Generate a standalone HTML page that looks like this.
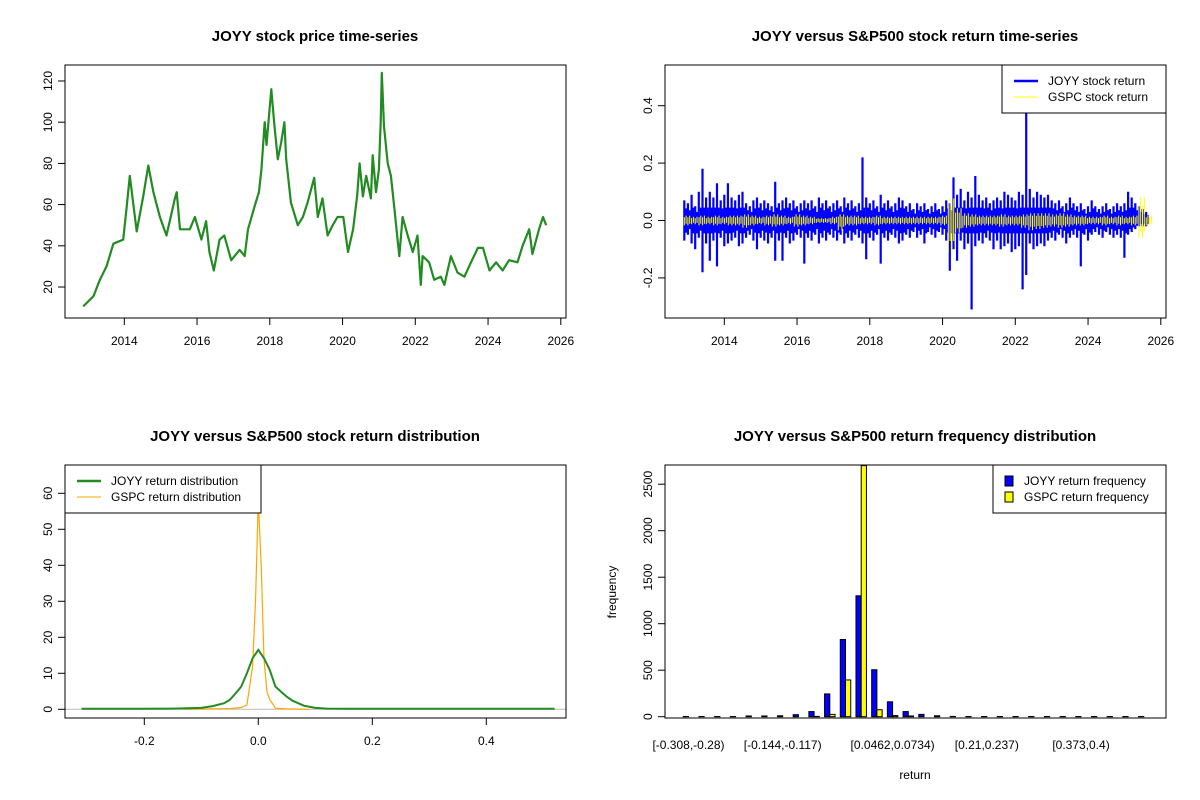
<!DOCTYPE html>
<html><head><meta charset="utf-8"><style>
body{margin:0;background:#fff}
svg{display:block;font-family:"Liberation Sans",Arial,sans-serif}
</style></head><body>
<svg id="c" width="1200" height="800" viewBox="0 0 1200 800" xmlns="http://www.w3.org/2000/svg"></svg>
<script>
// ---------- data ----------
const priceYears=[2012.87,2013.15,2013.33,2013.51,2013.7,2013.97,2014.06,2014.15,2014.34,2014.52,2014.66,2014.8,2014.98,2015.16,2015.39,2015.44,2015.53,2015.8,2015.94,2016.12,2016.25,2016.34,2016.46,2016.62,2016.75,2016.94,2017.17,2017.31,2017.4,2017.58,2017.7,2017.77,2017.86,2017.91,2018.04,2018.13,2018.22,2018.31,2018.4,2018.45,2018.58,2018.77,2018.91,2019.04,2019.22,2019.32,2019.45,2019.59,2019.73,2019.86,2020.02,2020.15,2020.29,2020.4,2020.47,2020.56,2020.65,2020.78,2020.83,2020.92,2021.0,2021.05,2021.08,2021.14,2021.24,2021.33,2021.42,2021.56,2021.65,2021.79,2021.93,2022.06,2022.15,2022.2,2022.38,2022.52,2022.7,2022.8,2022.98,2023.16,2023.35,2023.53,2023.72,2023.86,2024.04,2024.22,2024.4,2024.58,2024.81,2024.95,2025.13,2025.22,2025.4,2025.51,2025.6];
const priceValues=[10.6,15.5,23.5,30,41,43,58,74,47,64,79,66,54,45,63,66,48,48,54,43,52,37,28,43,45,33,38,35,48,59,66,77,100,89,116,98,82,90,100,82,61,50,54,61,73,54,63,45,50,54,54,37,48,64,80,64,74,63,84,66,77,100,124,98,80,74,59,35,54,45,37,45,21,35,32,23.5,25,21,35,27,25,32,39,39,28,32,28,33,32,40,48,36,48,54,50];
const yearTicks=[2014,2016,2018,2020,2022,2024,2026];
const priceTicks=[20,40,60,80,100,120];

const retStart=2012.9, retEnd=2025.6;
const joyyHi=[.07,.06,.09,.05,.10,.18,.08,.10,.08,.13,.07,.09,.13,.08,.07,.09,.10,.06,.05,.07,.08,.06,.07,.06,.05,.135,.06,.07,.08,.06,.07,.05,.06,.07,.06,.07,.05,.08,.06,.07,.05,.06,.07,.05,.08,.06,.07,.05,.06,.22,.08,.06,.07,.05,.09,.06,.07,.05,.06,.08,.07,.05,.06,.04,.06,.05,.06,.04,.05,.06,.04,.05,.07,.06,.15,.09,.11,.07,.10,.08,.155,.09,.07,.08,.06,.07,.08,.07,.10,.09,.08,.07,.10,.09,.45,.11,.08,.10,.09,.08,.09,.07,.06,.07,.05,.06,.08,.06,.05,.06,.04,.05,.07,.05,.04,.05,.06,.04,.05,.06,.05,.06,.10,.08,.06,.05,.04,.03];
const joyyLo=[-.07,-.05,-.08,-.10,-.06,-.18,-.08,-.14,-.07,-.16,-.06,-.09,-.08,-.07,-.06,-.09,-.08,-.06,-.05,-.07,-.10,-.06,-.07,-.08,-.06,-.14,-.07,-.14,-.06,-.08,-.07,-.05,-.06,-.15,-.06,-.07,-.05,-.08,-.06,-.07,-.05,-.06,-.07,-.05,-.08,-.06,-.07,-.05,-.06,-.08,-.135,-.06,-.07,-.05,-.15,-.06,-.07,-.05,-.06,-.08,-.07,-.05,-.06,-.04,-.06,-.05,-.08,-.04,-.05,-.06,-.04,-.05,-.07,-.175,-.10,-.14,-.07,-.10,-.08,-.31,-.09,-.07,-.08,-.06,-.07,-.10,-.07,-.10,-.09,-.08,-.11,-.10,-.09,-.24,-.19,-.08,-.10,-.09,-.08,-.09,-.07,-.06,-.07,-.05,-.06,-.08,-.06,-.05,-.06,-.16,-.05,-.07,-.05,-.04,-.05,-.06,-.04,-.05,-.06,-.05,-.06,-.13,-.05,-.04,-.03,-.02,-.02,-.02];
const gspcHi=[.02,.015,.02,.015,.02,.015,.02,.02,.025,.02,.015,.02,.025,.02,.015,.025,.02,.015,.01,.01,.015,.025,.02,.02,.015,.015,.02,.015,.015,.015,.015,.015,.015,.015,.015,.02,.09,.05,.03,.025,.02,.02,.02,.025,.02,.02,.025,.03,.03,.03,.025,.03,.025,.02,.02,.015,.015,.02,.015,.02,.015,.02,.095,.02];
const gspcLo=[-.02,-.015,-.02,-.015,-.02,-.015,-.02,-.02,-.03,-.02,-.015,-.02,-.025,-.02,-.015,-.025,-.02,-.015,-.01,-.01,-.015,-.04,-.02,-.02,-.015,-.015,-.02,-.015,-.015,-.015,-.015,-.015,-.015,-.015,-.015,-.02,-.13,-.05,-.03,-.025,-.02,-.02,-.02,-.025,-.02,-.02,-.03,-.04,-.035,-.03,-.025,-.03,-.025,-.02,-.02,-.015,-.015,-.02,-.015,-.02,-.015,-.02,-.07,-.02];
const retTicks=[-0.2,0,0.2,0.4];
const retTickLabels=["-0.2","0.0","0.2","0.4"];

const densX=[-0.31,-0.2,-0.15,-0.1,-0.08,-0.06,-0.05,-0.04,-0.03,-0.02,-0.01,0,0.01,0.02,0.03,0.04,0.05,0.06,0.08,0.1,0.12,0.15,0.2,0.52];
const densJoyy=[0.15,0.15,0.2,0.4,0.9,1.7,2.6,4.4,6.3,10,14.2,16.5,14.2,11,6.3,4.9,3.5,2.4,1.0,0.4,0.2,0.15,0.15,0.15];
const densGX=[-0.13,-0.05,-0.03,-0.02,-0.01,-0.005,0,0.005,0.01,0.015,0.02,0.03,0.05,0.09];
const densGspc=[0,0.2,0.5,1.2,12,30,58,40,14,5,2.8,0.3,0.1,0];
const densXTicks=[-0.2,0,0.2,0.4];
const densXLabels=["-0.2","0.0","0.2","0.4"];
const densYTicks=[0,10,20,30,40,50,60];

const histJoyy=[2,2,2,2,8,8,10,22,55,245,830,1300,505,160,55,25,10,3,2,2,2,2,2,2,2,2,2,2,2,2];
const histGspc=[0,0,0,0,0,0,0,0,3,25,395,2700,75,12,8,0,0,0,0,0,0,0,0,0,0,0,0,0,0,0];
const histLabels=["[-0.308,-0.28)","[-0.144,-0.117)","[0.0462,0.0734)","[0.21,0.237)","[0.373,0.4)"];
const histLabelIdx=[0,6,13,19,25];
const histYTicks=[0,500,1000,1500,2000,2500];

// ---------- helpers ----------
const NS="http://www.w3.org/2000/svg";
const svg=document.getElementById('c');
function el(tag,attrs,parent,txt){const e=document.createElementNS(NS,tag);for(const k in attrs)e.setAttribute(k,attrs[k]);if(txt!==undefined)e.textContent=txt;(parent||svg).appendChild(e);return e;}
function lin(d0,d1,r0,r1){return v=>r0+(v-d0)*(r1-r0)/(d1-d0);}
function group(name){const g=el('g',{});return g;}
function box(g,x0,y0,x1,y1){const r=el('rect',{x:x0,y:y0,width:x1-x0,height:y1-y0,fill:'none',stroke:'#000','stroke-width':1},g);}
function title(g,x,y,t){const e=el('text',{x:x,y:y,'text-anchor':'middle','font-size':15,'font-weight':'bold'},g,t);}
function xAxis(g,ticks,labels,sx,yb){const a=el('g',{},g);
  el('line',{x1:sx(ticks[0]),x2:sx(ticks[ticks.length-1]),y1:yb,y2:yb,stroke:'#000'},a);
  ticks.forEach((t,i)=>{el('line',{x1:sx(t),x2:sx(t),y1:yb,y2:yb+7,stroke:'#000'},a);
   const l=el('text',{x:sx(t),y:yb+27,'text-anchor':'middle','font-size':12},a,labels[i]);});}
function yAxis(g,ticks,labels,sy,xl){const a=el('g',{},g);
  el('line',{x1:xl,x2:xl,y1:sy(ticks[0]),y2:sy(ticks[ticks.length-1]),stroke:'#000'},a);
  ticks.forEach((t,i)=>{el('line',{x1:xl-7,x2:xl,y1:sy(t),y2:sy(t),stroke:'#000'},a);
   const l=el('text',{x:xl-13,y:sy(t),'text-anchor':'middle','font-size':12,transform:`rotate(-90 ${xl-13} ${sy(t)})`},a,labels[i]);});}
function legend(g,x,y,w,items){const L=el('g',{},g);
  el('rect',{x:x,y:y,width:w,height:48,fill:'#fff',stroke:'#000'},L);
  items.forEach((it,i)=>{const cy=y+16+i*16;
   if(it.sw){el('rect',{x:x+12,y:cy-5,width:8,height:10,fill:it.c,stroke:'#000'},L);}
   else el('line',{x1:x+12,x2:x+36,y1:cy,y2:cy,stroke:it.c,'stroke-width':it.w},L);
   const t=el('text',{x:x+(it.sw?31:46),y:cy+4,'font-size':12},L,it.t);});}

// ---------- panel 1 ----------
(function(){const g=group('price-panel');
 const sx=lin(2014,2026,124.3,560.8), sy=lin(20,120,287,81);
 title(g,315,41,'JOYY stock price time-series');
 const d=priceYears.map((y,i)=>(i?'L':'M')+sx(y).toFixed(1)+','+sy(priceValues[i]).toFixed(1)).join('');
 const p=el('path',{d:d,fill:'none',stroke:'#228B22','stroke-width':2.2,'stroke-linejoin':'round'},g);
 
 box(g,65,65,566,318);
 xAxis(g,yearTicks,yearTicks.map(String),sx,318);
 yAxis(g,priceTicks,priceTicks.map(String),sy,65);})();

// ---------- panel 2 ----------
(function(){const g=group('return-panel');
 const sx=lin(2014,2026,724.3,1160.8), sy=lin(0,0.2,220.5,163.1);
 title(g,915,41,'JOYY versus S&P500 stock return time-series');
 let d='';const n=joyyHi.length;
 joyyHi.forEach((h,i)=>{const x=sx(retStart+i*(retEnd-retStart)/(n-1));d+=`M${x.toFixed(1)},${sy(joyyLo[i]).toFixed(1)}V${sy(h).toFixed(1)}`;});
 const p=el('path',{d:d,stroke:'#0000FF','stroke-width':2.2,fill:'none'},g);
 let d2='';joyyHi.forEach((h,i)=>{const x=sx(retStart+(i+0.5)*(retEnd-retStart)/(n-1));d2+=`M${x.toFixed(1)},${sy(Math.max(joyyLo[i]*0.6,-0.045)).toFixed(1)}V${sy(Math.min(h*0.6,0.045)).toFixed(1)}`;});
 const p2=el('path',{d:d2,stroke:'#0000FF','stroke-width':2,fill:'none'},g);
 let d3='';const m=gspcHi.length;
 gspcHi.forEach((h,i)=>{const x0=sx(retStart+i*(retEnd-retStart)/(m-1));for(let k=0;k<4;k++){const x=x0+k*1.8;const f=(k%2?0.55:0.85);d3+=`M${x.toFixed(1)},${sy(gspcLo[i]*f).toFixed(1)}V${sy(h*(1.4-f)).toFixed(1)}`;}});
 const p3=el('path',{d:d3,stroke:'#FFFF00','stroke-width':1,fill:'none'},g);
 box(g,665,65,1166,318);
 xAxis(g,yearTicks,yearTicks.map(String),sx,318);
 yAxis(g,retTicks,retTickLabels,sy,665);
 legend(g,1002,65,164,[{c:'#0000FF',w:2.5,t:'JOYY stock return'},{c:'#FFFF00',w:1,t:'GSPC stock return'}]);})();

// ---------- panel 3 ----------
(function(){const g=group('density-panel');
 const sx=lin(0,0.2,258.3,372.3), sy=lin(0,10,709.3,673.3);
 title(g,315,441,'JOYY versus S&P500 stock return distribution');
 el('line',{x1:65,x2:566,y1:sy(0),y2:sy(0),stroke:'#bbb'},g);
 const dg=densGX.map((x,i)=>(i?'L':'M')+sx(x).toFixed(1)+','+sy(densGspc[i]).toFixed(1)).join('');
 const a=el('path',{d:dg,fill:'none',stroke:'#FFA500','stroke-width':1.2},g);
 const dj=densX.map((x,i)=>(i?'L':'M')+sx(x).toFixed(1)+','+sy(densJoyy[i]).toFixed(1)).join('');
 const b=el('path',{d:dj,fill:'none',stroke:'#228B22','stroke-width':2},g);
 box(g,65,465,566,718);
 xAxis(g,densXTicks,densXLabels,sx,718);
 yAxis(g,densYTicks,densYTicks.map(String),sy,65);
 legend(g,65,465,196,[{c:'#228B22',w:2.5,t:'JOYY return distribution'},{c:'#FFA500',w:1,t:'GSPC return distribution'}]);})();

// ---------- panel 4 ----------
(function(){const g=group('histogram-panel');
 const sy=lin(0,500,716.7,670.2);const sp=15.7, bw=5.23;const bx=i=>688.5-bw+i*sp;
 title(g,915,441,'JOYY versus S&P500 return frequency distribution');
 histJoyy.forEach((v,i)=>{const r=el('rect',{x:bx(i),y:sy(v),width:bw,height:sy(0)-sy(v),fill:'#0000FF',stroke:'#000','stroke-width':1},g);
  });
 histGspc.forEach((v,i)=>{const top=Math.max(sy(v),465);const r=el('rect',{x:bx(i)+bw,y:top,width:bw,height:sy(0)-top,fill:'#FFFF00',stroke:'#000','stroke-width':1},g);
  });
 box(g,665,465,1166,718);
 yAxis(g,histYTicks,histYTicks.map(String),sy,665);
 histLabelIdx.forEach((k,i)=>{const t=el('text',{x:bx(k)+bw,y:749,'text-anchor':'middle','font-size':12},g,histLabels[i]);});
 const xt=el('text',{x:915,y:779,'text-anchor':'middle','font-size':12},g,'return');
 const yt=el('text',{x:616,y:592,'text-anchor':'middle','font-size':12,transform:'rotate(-90 616 592)'},g,'frequency');
 legend(g,993,465,173,[{c:'#0000FF',sw:1,t:'JOYY return frequency'},{c:'#FFFF00',sw:1,t:'GSPC return frequency'}]);})();
</script>
</body></html>
